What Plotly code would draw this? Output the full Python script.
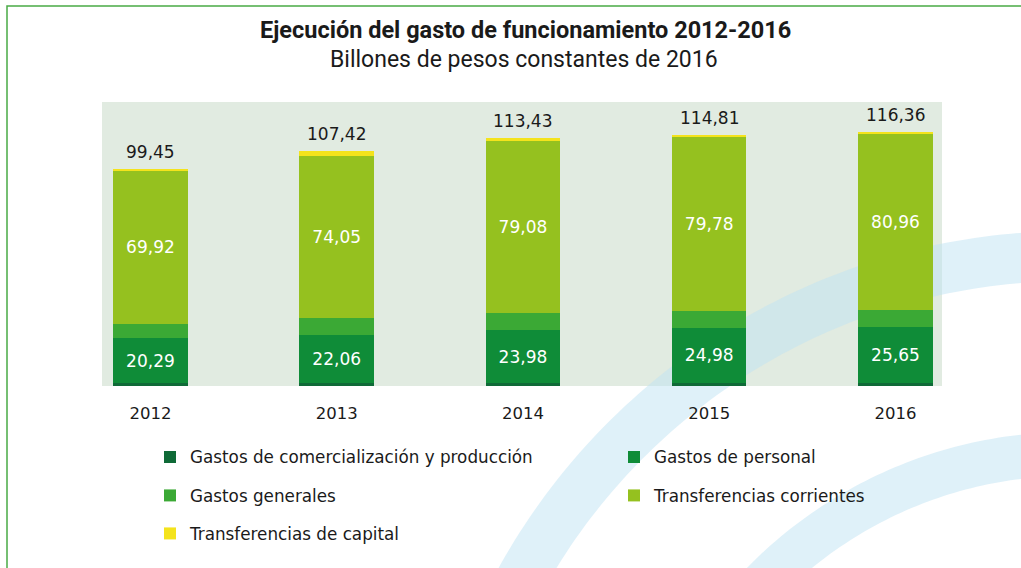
import numpy as np
import plotly.graph_objects as go

# ---------------- data ----------------
years = ["2012", "2013", "2014", "2015", "2016"]
comercializacion = [1.50, 1.40, 1.50, 1.50, 1.50]
personal = [20.29, 22.06, 23.98, 24.98, 25.65]
generales = [6.82, 7.70, 7.97, 7.80, 7.65]
corrientes = [69.92, 74.05, 79.08, 79.78, 80.96]
capital = [0.92, 2.21, 0.90, 0.75, 0.60]
totales = [99.45, 107.42, 113.43, 114.81, 116.36]

series_names = [
    "Gastos de comercialización y producción",
    "Gastos de personal",
    "Gastos generales",
    "Transferencias corrientes",
    "Transferencias de capital",
]
title_text = "Ejecución del gasto de funcionamiento 2012-2016"
subtitle_text = "Billones de pesos constantes de 2016"

# ---------------- layout geometry ----------------
W, H = 1021, 568
ML, MR, MT, MB = 102, 79, 102, 182
PW, PH = W - ML - MR, H - MT - MB


def px2x(px):
    return (px - ML) / PW


def py2y(py):
    return (H - MB - py) / PH


def fmt(v):
    return f"{v:.2f}".replace(".", ",")


colors = ["#0f6a37", "#0f8c38", "#3ba935", "#95c11f", "#f4e31c"]
FONT = "DejaVu Sans, Verdana, sans-serif"
TFONT = "Roboto, Liberation Sans Narrow, sans-serif"
TXT = "#1a1a1a"

values = [comercializacion, personal, generales, corrientes, capital]
legend_ids = ["legend", "legend2", "legend3", "legend4", "legend5"]

fig = go.Figure()
for i, (name, vals, col) in enumerate(zip(series_names, values, colors)):
    if i in (1, 3):
        kw = dict(
            text=[fmt(v) for v in vals],
            textposition="inside",
            insidetextanchor="middle",
            textfont=dict(color="white", size=17, family=FONT),
            texttemplate="%{text}",
        )
    else:
        kw = dict(textposition="none")
    fig.add_trace(
        go.Bar(
            x=years,
            y=vals,
            name=name,
            marker=dict(color=col, line=dict(width=0)),
            legend=legend_ids[i],
            **kw,
        )
    )

# ---------------- decorative shapes ----------------
shapes = []
shapes.append(dict(type="rect", xref="paper", yref="paper", x0=0, x1=1, y0=0, y1=1,
                   fillcolor="#e1ebe1", line=dict(width=0), layer="below"))


def annulus_path(cx, cy, r_out, r_in, n=120):
    th = np.linspace(np.pi / 2 - 0.05, np.pi + 0.05, n)
    xo = cx + r_out * np.cos(th)
    yo = cy - r_out * np.sin(th)
    xi = cx + r_in * np.cos(th[::-1])
    yi = cy - r_in * np.sin(th[::-1])
    pts = [(px2x(a), py2y(b)) for a, b in zip(np.r_[xo, xi], np.r_[yo, yi])]
    return "M " + " L ".join(f"{a:.5f},{b:.5f}" for a, b in pts) + " Z"


for ro, ri in [(653, 603), (452, 408)]:
    shapes.append(dict(type="path", xref="paper", yref="paper",
                       path=annulus_path(1070, 884, ro, ri),
                       fillcolor="rgba(191,227,243,0.5)", line=dict(width=0), layer="below"))

shapes.append(dict(type="rect", xref="paper", yref="paper",
                   x0=px2x(7), x1=px2x(1040), y0=py2y(6), y1=py2y(590),
                   line=dict(color="#4aab45", width=1.5), fillcolor="rgba(0,0,0,0)", layer="above"))

annotations = [
    dict(text=f"<b>{title_text}</b>", x=px2x(525), y=py2y(30), xref="paper", yref="paper",
         xanchor="center", yanchor="middle", showarrow=False,
         font=dict(family=TFONT, size=23.5, color=TXT)),
    dict(text=subtitle_text, x=px2x(524), y=py2y(59), xref="paper", yref="paper",
         xanchor="center", yanchor="middle", showarrow=False,
         font=dict(family=TFONT, size=23, color=TXT)),
]
# total labels above each stacked bar (category index on the x axis)
for idx, tot in enumerate(totales):
    annotations.append(dict(text=fmt(tot), x=idx, y=tot, xref="x", yref="y",
                            xanchor="center", yanchor="middle", yshift=17, showarrow=False,
                            font=dict(family=FONT, size=17, color=TXT)))

legend_pos = [(150, 457), (614, 457), (150, 495.5), (614, 495.5), (150, 533.5)]
legend_layouts = {}
for lid, (lx, ly) in zip(legend_ids, legend_pos):
    legend_layouts[lid] = dict(
        x=px2x(lx), y=py2y(ly), xanchor="left", yanchor="middle",
        xref="paper", yref="paper",
        bgcolor="rgba(0,0,0,0)", borderwidth=0,
        font=dict(family=FONT, size=16.8, color=TXT),
        orientation="v",
    )

fig.update_layout(
    width=W, height=H,
    margin=dict(l=ML, r=MR, t=MT, b=MB, pad=0),
    barmode="stack",
    bargap=0.6,
    paper_bgcolor="white",
    plot_bgcolor="rgba(0,0,0,0)",
    separators=",.",
    showlegend=True,
    shapes=shapes,
    annotations=annotations,
    font=dict(family=FONT, color=TXT),
    **legend_layouts,
)
fig.update_xaxes(
    range=[-0.26, 4.25], type="category", showgrid=False, zeroline=False, showline=False,
    ticks="outside", ticklen=12, tickcolor="rgba(0,0,0,0)",
    tickfont=dict(family=FONT, size=16.5, color=TXT),
)
fig.update_yaxes(range=[0, 130], visible=False, showgrid=False, zeroline=False)

fig.write_html("out.html", config={"displayModeBar": False},
               post_script="document.body.style.margin='0px';")
